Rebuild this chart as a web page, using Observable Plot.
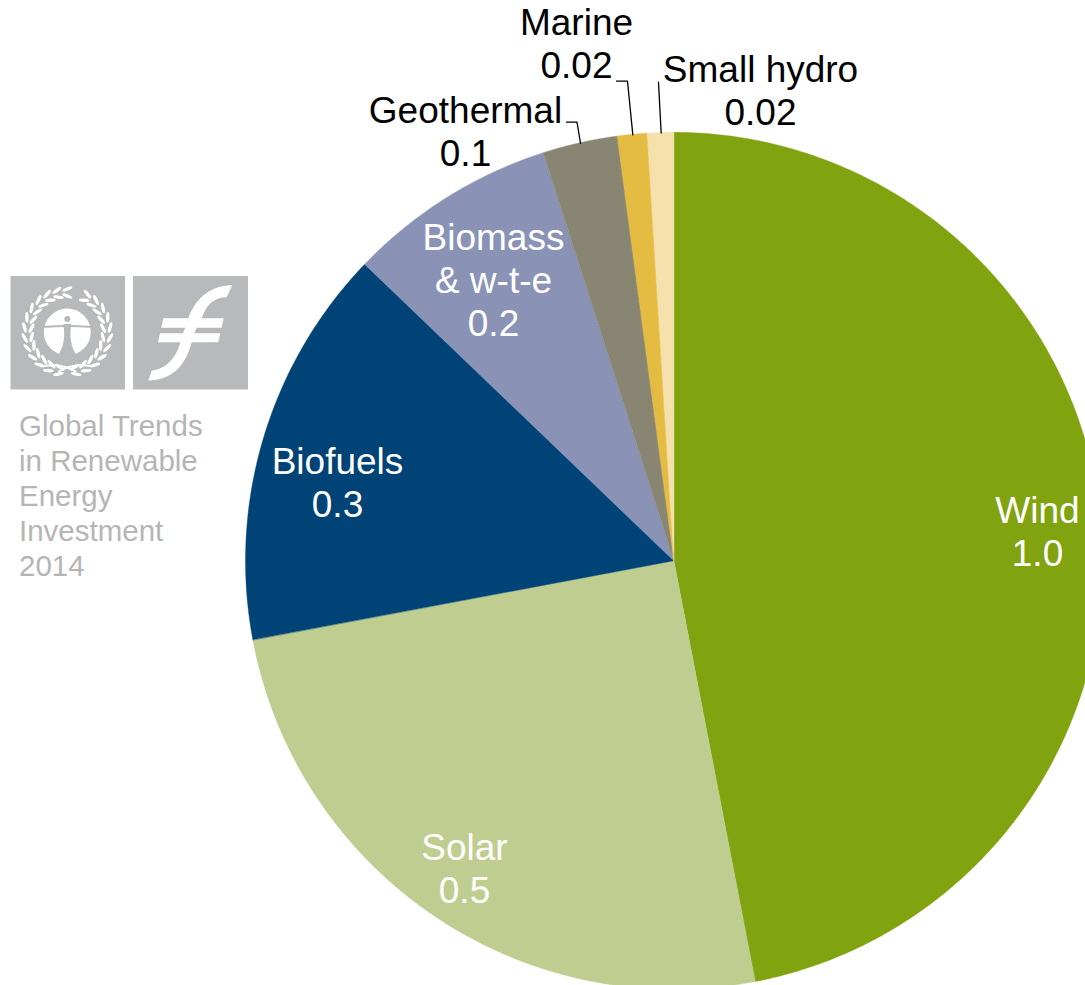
<!DOCTYPE html>
<html><head><meta charset="utf-8">
<script src="https://cdn.jsdelivr.net/npm/d3@7"></script>
<script src="https://cdn.jsdelivr.net/npm/@observablehq/plot@0.6"></script>
<style>html,body{margin:0;padding:0;background:#fff}svg{display:block}svg text{font-family:"Liberation Sans",Arial,sans-serif !important}</style>
</head><body><div id="chart"></div>
<script>
// data
const names = ["Wind","Solar","Biofuels","Biomass","Geothermal","Marine","Small hydro"];
const shares = [46.97,25.08,15.12,7.9,2.82,1.12,0.99];
const labels = ["Wind\n1.0","Solar\n0.5","Biofuels\n0.3","Biomass\n& w-t-e\n0.2","Geothermal\n0.1","Marine\n0.02","Small hydro\n0.02"];
const colors = ["#80a30f","#bfce90","#004376","#8a93b6","#888672","#e4bc42","#f6e0ab"];
const noteLines = ["Global Trends","in Renewable","Energy","Investment","2014"];

// layout
const W = 1085, H = 985, cx = 674, cy = 560.8, R = 428.5;
const ux = p => (p - cx) / R, uy = p => (cy - p) / R;
const labelAt = [[1037,530,"#fff"],[464,867,"#fff"],[337,481,"#fff"],[493,279,"#fff"],[465,130.5,"#000"],[576,42.5,"#000"],[760,89,"#000"]];
const leaderElbows = {Geothermal:[[566,121.7],[576.5,121.7]],Marine:[[616,80.7],[627,80.7]],"Small hydro":[[658,81.7]]};

const total = d3.sum(shares);
let acc = 0;
const arcRows = [], mids = {};
names.forEach((name,i)=>{
  const a0 = acc/total*2*Math.PI; acc += shares[i];
  const a1 = acc/total*2*Math.PI;
  mids[name] = (a0+a1)/2;
  const n = Math.max(4,Math.ceil((a1-a0)*90));
  for(let k=0;k<=n;k++){
    const t = a0+(a1-a0)*k/n;
    arcRows.push({name,x:Math.sin(t),y:Math.cos(t)});
  }
});
const labelRows = names.map((name,i)=>({text:labels[i],x:ux(labelAt[i][0]),y:uy(labelAt[i][1]),c:labelAt[i][2]}));
const leaderRows = [];
Object.entries(leaderElbows).forEach(([name,pts])=>{
  pts.forEach(p=>leaderRows.push({name,x:ux(p[0]),y:uy(p[1])}));
  leaderRows.push({name,x:Math.sin(mids[name]),y:Math.cos(mids[name])});
});

function logo(){
  const g = d3.create("svg:g");
  const grey = "#b8b9bb";
  g.append("rect").attr("x",10.5).attr("y",276).attr("width",114.5).attr("height",113.5).attr("fill",grey);
  g.append("rect").attr("x",133).attr("y",276).attr("width",115).attr("height",113.5).attr("fill",grey);
  // emblem
  const ex=67.3, ey=332;
  g.append("circle").attr("cx",ex).attr("cy",ey).attr("r",23.5).attr("fill","#fff");
  g.append("path").attr("fill","none").attr("stroke",grey).attr("stroke-width",2.2)
    .attr("d",`M${ex-25},${ey-5} Q${ex},${ey-7} ${ex+25},${ey-5}`);
  g.append("circle").attr("cx",ex).attr("cy",ey-13).attr("r",3).attr("fill",grey);
  g.append("path").attr("fill",grey)
    .attr("d",`M${ex-4},${ey-8} L${ex+4},${ey-8} Q${ex+2.5},${ey+2} ${ex+3.5},${ey+8} Q${ex+5},${ey+18} ${ex+10},${ey+24} L${ex-10},${ey+24} Q${ex-5},${ey+18} ${ex-3.5},${ey+8} Q${ex-2.5},${ey+2} ${ex-4},${ey-8} Z`);
  // wreath: paired leaves running up each side from the crossed stems
  const leaf=(x,y,deg)=>g.append("ellipse").attr("rx",5.4).attr("ry",1.7).attr("fill","#fff")
    .attr("transform",`translate(${x},${y}) rotate(${deg})`);
  [[-1,-12],[1,28]].forEach(([side,end])=>{
    for(let th=168;th>=end;th-=14){
      const t=th*Math.PI/180;
      const base=Math.atan2(-Math.sin(t),-side*Math.cos(t))*180/Math.PI;
      [[36,-1],[43,1]].forEach(([r,f])=>{
        const x=ex+side*r*Math.sin(t), y=ey-r*Math.cos(t);
        leaf(x,y,base+f*side*22);
      });
    }
  });
  g.append("path").attr("fill","none").attr("stroke","#fff").attr("stroke-width",1.8)
    .attr("d",`M${ex-24},${ey+34} Q${ex-4},${ey+31} ${ex+9},${ey+40} M${ex+24},${ey+34} Q${ex+4},${ey+31} ${ex-9},${ey+40}`);
  // fund symbol, drawn on a 3x grid whose origin is the logo row
  g.append("path").attr("fill","#fff").attr("transform","translate(0,265) scale(0.3333)")
    .attr("d","M697,60 C640,62 590,90 565,160 L490,160 L484,188 L556,188 L549,205 L480,205 L474,232 L541,232 C525,290 490,313 455,317 L445,347 C510,345 555,310 575,232 L655,232 L661,205 L583,205 L590,188 L665,188 L671,160 L605,160 C620,120 640,97 680,97 Z");
  return g.node();
}

const plot = Plot.plot({
  width:W,height:H,margin:0,
  style:{fontFamily:"'Liberation Sans',Arial,sans-serif",background:"#fff"},
  x:{axis:null,domain:[ux(0),ux(W)],range:[0,W]},
  y:{axis:null,domain:[uy(0),uy(H)],range:[0,H]},
  color:{domain:names,range:colors},
  marks:[
    logo,
    Plot.area(arcRows,{x1:()=>0,y1:()=>0,x2:"x",y2:"y",z:"name",fill:"name",curve:"linear",stroke:"name",strokeWidth:0.4}),
    Plot.line(leaderRows,{x:"x",y:"y",z:"name",stroke:"#000",strokeWidth:1.3,curve:"linear"}),
    Plot.text(labelRows,{x:"x",y:"y",text:"text",fill:"c",fontSize:37,lineHeight:1.162,lineAnchor:"middle"}),
    Plot.text([noteLines.join("\n")],{x:ux(18.5),y:uy(494),text:d=>d,fill:"#b5b5b5",fontSize:29.5,lineHeight:1.19,textAnchor:"start",lineAnchor:"middle"})
  ]
});
document.getElementById("chart").append(plot);
</script></body></html>
